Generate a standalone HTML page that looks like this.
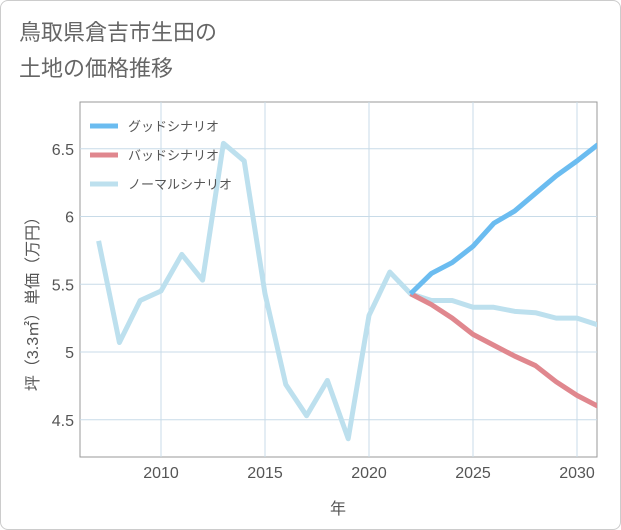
<!DOCTYPE html>
<html><head><meta charset="utf-8">
<style>
body{margin:0;background:#fff;}
#wrap{position:relative;width:619px;height:528px;border:1px solid #ccc;border-radius:8px;background:#fff;overflow:hidden;font-family:"Liberation Sans","Noto Sans CJK JP",sans-serif;}
#title{position:absolute;left:18px;top:14px;font-size:22px;line-height:36px;color:#666;}
</style></head><body>
<div id="wrap">
<div id="title">鳥取県倉吉市生田の<br>土地の価格推移</div>
<svg id="chart" width="621" height="530" style="position:absolute;left:-1px;top:-1px"></svg>
</div>
<script>
const years=[2007,2008,2009,2010,2011,2012,2013,2014,2015,2016,2017,2018,2019,2020,2021,2022,2023,2024,2025,2026,2027,2028,2029,2030,2031];
const normalVals=[5.82,5.07,5.38,5.45,5.72,5.53,6.54,6.41,5.43,4.76,4.53,4.79,4.36,5.27,5.59,5.43,5.38,5.38,5.33,5.33,5.30,5.29,5.25,5.25,5.20];
const futureYears=[2022,2023,2024,2025,2026,2027,2028,2029,2030,2031];
const goodVals=[5.43,5.58,5.66,5.78,5.95,6.04,6.17,6.30,6.41,6.53];
const badVals=[5.43,5.35,5.25,5.13,5.05,4.97,4.90,4.78,4.68,4.60];
const xTicks=[2010,2015,2020,2025,2030];
const yTicks=[4.5,5,5.5,6,6.5];
const legendLabels=["グッドシナリオ","バッドシナリオ","ノーマルシナリオ"];
const colors=["#6bbcf0","#e0878e","#bde0ee"];

const svg=document.getElementById('chart');
const NS='http://www.w3.org/2000/svg';
const L=80,R=597,T=102,B=457;
const x=v=>161+(v-2010)*20.8;
const y=v=>352-(v-5)*135.5;
function mk(t,a){const e=document.createElementNS(NS,t);for(const k in a)e.setAttribute(k,a[k]);svg.appendChild(e);return e;}
let bg=mk('rect',{x:L,y:T,width:R-L,height:B-T,fill:'#fff',stroke:'#999'});


xTicks.forEach(t=>{
 let g=mk('line',{x1:x(t),x2:x(t),y1:T,y2:B,stroke:'#c8dbe8'});
 
 
 let tx=mk('text',{x:x(t),y:478,'text-anchor':'middle','font-size':16,fill:'#555'});
 tx.textContent=t;
 
 
});
yTicks.forEach(t=>{
 let g=mk('line',{x1:L,x2:R,y1:y(t),y2:y(t),stroke:'#c8dbe8'});
 
 
 let tx=mk('text',{x:74,y:y(t)+6,'text-anchor':'end','font-size':16,fill:'#555'});
 tx.textContent=t;
 
 
});
function line(xs,vs,c,name){
 let p=mk('polyline',{points:xs.map((v,i)=>x(v)+','+y(vs[i])).join(' '),fill:'none',stroke:c,'stroke-width':5,'stroke-linejoin':'round'});
 
 
}
svg.insertAdjacentHTML('beforeend','<clipPath id="cp"><rect x="80" y="102" width="517" height="355"/></clipPath>');
const gl=mk('g',{'clip-path':'url(#cp)'});
const origMk=mk;
line(years,normalVals,colors[2],'normal-scenario-line');
line(futureYears,badVals,colors[1],'bad-scenario-line');
line(futureYears,goodVals,colors[0],'good-scenario-line');
svg.querySelectorAll('polyline').forEach(p=>gl.appendChild(p));
legendLabels.forEach((lb,i)=>{
 let ly=126+i*29;
 let s=mk('line',{x1:90,x2:118,y1:ly,y2:ly,stroke:colors[i],'stroke-width':5});
 
 
 let tx=mk('text',{x:128,y:ly+5,'font-size':13,fill:'#555'});
 tx.textContent=lb;
 
 
});
let xt=mk('text',{x:338,y:514,'text-anchor':'middle','font-size':16,fill:'#555'});
xt.textContent='年';


let yt=mk('text',{x:0,y:0,'text-anchor':'middle','font-size':16,fill:'#555',transform:'translate(38,300) rotate(-90)'});
yt.textContent='坪（3.3㎡）単価（万円）';


</script>
</body></html>
